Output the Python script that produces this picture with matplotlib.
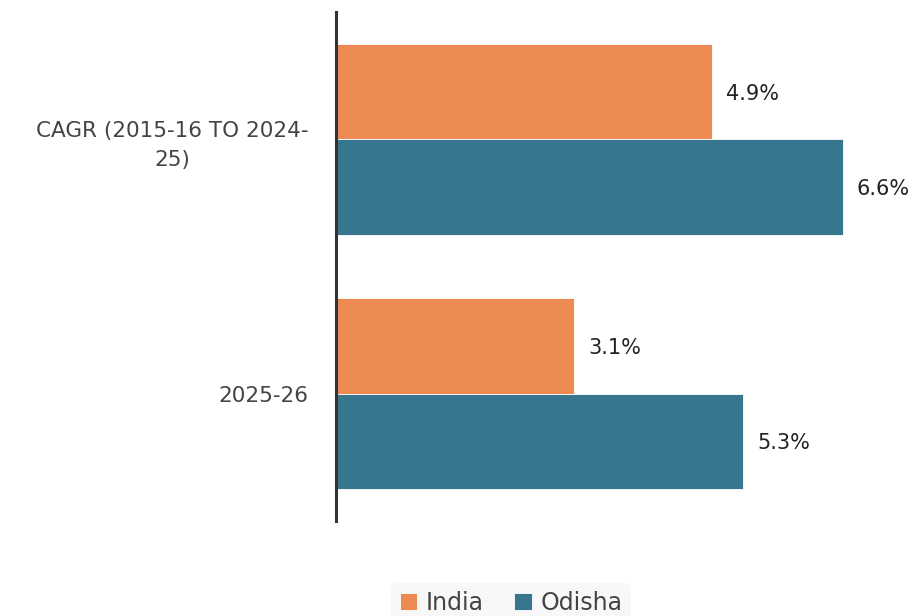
import matplotlib
matplotlib.use("Agg")
import matplotlib.pyplot as plt
import numpy as np

categories = ["CAGR (2015-16 TO 2024-\n25)", "2025-26"]
series_names = ["India", "Odisha"]
india = [4.9, 3.1]
odisha = [6.6, 5.3]
value_labels_india = ["4.9%", "3.1%"]
value_labels_odisha = ["6.6%", "5.3%"]

colors = ["#EC8A52", "#387690"]

plt.rcParams['font.family'] = ['DejaVu Sans']

fig = plt.figure(figsize=(9.16, 6.16), dpi=100)
ax = fig.add_axes([336/916, (616-521)/616, 576/916, (521-12)/616])

y = np.arange(len(categories))
h = 0.375
b1 = ax.barh(y - h/2, india, height=h, color=colors[0], label=series_names[0],
             edgecolor="white", linewidth=0.6)
b2 = ax.barh(y + h/2, odisha, height=h, color=colors[1], label=series_names[1],
             edgecolor="white", linewidth=0.6)

for bars, labs in ((b1, value_labels_india), (b2, value_labels_odisha)):
    for bar, lab in zip(bars, labs):
        ax.annotate(lab, (bar.get_width(), bar.get_y() + bar.get_height()/2),
                    xytext=(14, -2), textcoords="offset pixels",
                    va="center", ha="left", fontsize=15, color="#222222")

ax.set_ylim(1.5, -0.5)
ax.set_xlim(0, 7.5)
ax.set_yticks(y)
ax.set_yticklabels(categories, fontsize=15.5, color="#444444",
                   multialignment="center", linespacing=1.55)
ax.tick_params(axis="y", length=0, pad=20)
ax.set_xticks([])
for s in ("top", "right", "bottom"):
    ax.spines[s].set_visible(False)
ax.spines["left"].set_color("#333333")
ax.spines["left"].set_linewidth(2.2)

leg = fig.legend(loc="center", bbox_to_anchor=(511/916, 1 - 603/616), ncol=2,
                 frameon=True, fontsize=17, handlelength=0.75, handleheight=0.75,
                 handletextpad=0.35, columnspacing=1.3, borderpad=0.35,
                 borderaxespad=0)
leg.get_frame().set_facecolor("#f7f7f7")
leg.get_frame().set_edgecolor("none")
for t in leg.get_texts():
    t.set_color("#444444")

fig.savefig("out.png", dpi=100)
